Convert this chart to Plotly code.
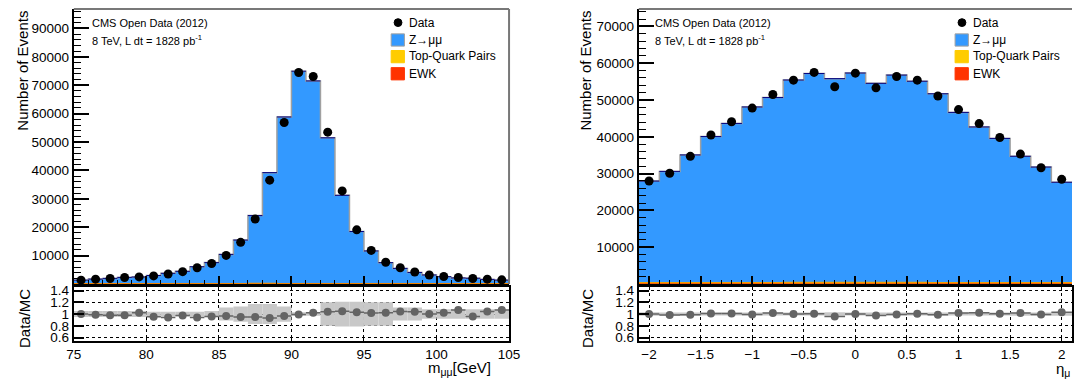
import math
import plotly.graph_objects as go

W, H = 1083, 385
FONT = "Liberation Sans, Arial, sans-serif"

# ---------------- left panel: dimuon invariant mass ----------------
mass_lo, mass_hi, mass_bw = 75.0, 105.0, 1.0
mass_data = [1380, 1720, 1960, 2300, 2530, 2870, 3560, 4370, 5750, 7250,
             10100, 14700, 22900, 36600, 56900, 74500, 73100, 53500, 32800, 19100,
             11850, 7700, 5750, 4250, 3200, 2650, 2300, 1960, 1720, 1480]
mass_z = [1320, 1680, 1935, 2290, 2415, 2940, 3710, 4410, 6030, 7485,
          10385, 15415, 24040, 39170, 58780, 74890, 71470, 51430, 31180, 18430,
          11590, 7475, 5450, 4030, 3140, 2535, 2095, 1990, 1590, 1330]
mass_top = [38, 39, 40, 41, 42, 43, 44, 44, 45, 45, 46, 46, 47, 47, 47,
            47, 47, 46, 46, 45, 45, 44, 44, 43, 42, 42, 41, 40, 40, 39]
mass_ewk = [22, 22, 22, 21, 21, 21, 20, 20, 20, 20, 19, 19, 19, 19, 18,
            18, 18, 18, 18, 18, 17, 17, 17, 17, 17, 17, 16, 16, 16, 16]
mass_unc = [0.05, 0.05, 0.05, 0.05, 0.05, 0.04, 0.04, 0.04, 0.04, 0.05,
            0.11, 0.13, 0.17, 0.17, 0.13, 0.03, 0.03, 0.20, 0.21, 0.21,
            0.20, 0.20, 0.11, 0.11, 0.08, 0.08, 0.08, 0.08, 0.08, 0.08]
mass_ticks = [75, 80, 85, 90, 95, 100, 105]
mass_yticks = [10000, 20000, 30000, 40000, 50000, 60000, 70000, 80000, 90000]

# ---------------- right panel: muon pseudorapidity ----------------
eta_lo, eta_hi, eta_bw = -2.1, 2.1, 0.2
eta_data = [28000, 30100, 34700, 40500, 44100, 47800, 51500, 55400, 57500, 53600,
            57300, 53300, 56400, 55400, 51100, 47400, 43600, 39800, 35300, 31600, 28450]
eta_z = [27700, 30320, 34780, 39760, 43320, 47790, 50340, 55100, 56860, 55475,
         57000, 54200, 56440, 54770, 51370, 46310, 42360, 39260, 34410, 31490, 27375]
eta_top = [180, 190, 200, 205, 210, 215, 215, 220, 220, 220, 220,
           220, 220, 220, 215, 215, 210, 205, 200, 190, 180]
eta_ewk = [95, 98, 100, 102, 104, 105, 106, 107, 107, 108, 108,
           108, 107, 107, 106, 105, 104, 102, 100, 98, 95]
eta_unc = [0.030, 0.028, 0.027, 0.025, 0.025, 0.025, 0.025, 0.025, 0.025, 0.030, 0.025,
           0.025, 0.025, 0.025, 0.025, 0.025, 0.025, 0.025, 0.027, 0.028, 0.030]
eta_ticks = [-2, -1.5, -1, -0.5, 0, 0.5, 1, 1.5, 2]
eta_ticktext = ["\u22122", "\u22121.5", "\u22121", "\u22120.5", "0", "0.5", "1", "1.5", "2"]
eta_yticks = [10000, 20000, 30000, 40000, 50000, 60000, 70000]

ratio_ticks = [0.6, 0.8, 1.0, 1.2, 1.4]
ratio_ticktext = ["0.6", "0.8", "1", "1.2", "1.4"]

C_Z = "#3399ff"
C_TOP = "#ffcc00"
C_EWK = "#ff3300"


def px_x(p):
    return p / W


def px_y(p):
    return 1 - p / H


def add_panel(fig, lo, bw, data, z, top, ewk, unc, xa, ya, xr, yr):
    n = len(data)
    edges = [round(lo + bw * i, 6) for i in range(n + 1)]
    centers = [round(lo + bw * (i + 0.5), 6) for i in range(n)]
    total = [z[i] + top[i] + ewk[i] for i in range(n)]
    te = [top[i] + ewk[i] for i in range(n)]

    def step(v):
        return list(v) + [v[-1]]

    fig.add_trace(go.Scatter(x=edges, y=step(total), mode="lines", line_shape="hv",
                             fill="tozeroy", fillcolor=C_Z,
                             line=dict(color="#a0a0a0", width=1.5),
                             xaxis=xa, yaxis=ya, hoverinfo="skip"))
    fig.add_trace(go.Scatter(x=edges, y=step(te), mode="lines", line_shape="hv",
                             fill="tozeroy", fillcolor=C_TOP,
                             line=dict(color="#f0a000", width=2),
                             xaxis=xa, yaxis=ya, hoverinfo="skip"))
    fig.add_trace(go.Scatter(x=edges, y=step(ewk), mode="lines", line_shape="hv",
                             fill="tozeroy", fillcolor=C_EWK,
                             line=dict(color=C_EWK, width=0.5),
                             xaxis=xa, yaxis=ya, hoverinfo="skip"))
    # dark blue tops of MC histogram
    fig.add_trace(go.Scatter(x=centers, y=total, mode="markers",
                             marker=dict(size=1, color="rgba(0,0,0,0)"),
                             error_x=dict(type="constant", value=bw / 2, color="#000080",
                                          thickness=1, width=0),
                             xaxis=xa, yaxis=ya, hoverinfo="skip"))
    # data
    fig.add_trace(go.Scatter(x=centers, y=data, mode="markers",
                             marker=dict(size=9, color="black"),
                             error_y=dict(type="data", array=[math.sqrt(d) for d in data],
                                          color="black", thickness=1, width=0),
                             xaxis=xa, yaxis=ya))
    # ratio band
    fig.add_trace(go.Bar(x=centers, y=[2 * u for u in unc], base=[1 - u for u in unc],
                         width=bw, marker=dict(color="#c8c8c8", line=dict(width=0)),
                         xaxis=xr, yaxis=yr, hoverinfo="skip"))
    ratio = [data[i] / total[i] for i in range(n)]
    rerr = [math.sqrt(data[i]) / total[i] for i in range(n)]
    fig.add_trace(go.Scatter(x=centers, y=ratio, mode="markers",
                             marker=dict(size=8, color="#646464"),
                             error_x=dict(type="constant", value=bw / 2, color="#646464",
                                          thickness=1.5, width=0),
                             error_y=dict(type="data", array=rerr, color="#646464",
                                          thickness=1, width=0),
                             xaxis=xr, yaxis=yr))


fig = go.Figure()
add_panel(fig, mass_lo, mass_bw, mass_data, mass_z, mass_top, mass_ewk, mass_unc,
          "x", "y", "x2", "y2")
add_panel(fig, eta_lo, eta_bw, eta_data, eta_z, eta_top, eta_ewk, eta_unc,
          "x3", "y3", "x4", "y4")

L_DOM = [px_x(67), px_x(510)]
R_DOM = [px_x(642), 1.0]
MAIN_DOM = [px_y(286), px_y(5)]
RATIO_DOM = [px_y(344), px_y(289)]

tickfont = dict(family=FONT, size=13.5, color="black")
rtickfont = dict(family=FONT, size=13.5, color="black")


def main_x(dom, rng, dtick, minor_dtick, anchor, tick0):
    return dict(domain=dom, range=rng, anchor=anchor, showticklabels=False,
                tickmode="linear", tick0=tick0, dtick=dtick,
                ticks="inside", ticklen=8, tickcolor="black", tickwidth=1.5,
                minor=dict(ticks="inside", ticklen=4, dtick=minor_dtick, tick0=tick0,
                           tickcolor="black", tickwidth=1),
                showline=True, linecolor="black", linewidth=2,
                showgrid=False, zeroline=False)


def main_y(rng, tickvals, anchor):
    return dict(domain=MAIN_DOM, range=rng, anchor=anchor,
                tickmode="array", tickvals=tickvals, ticktext=[str(v) for v in tickvals],
                ticks="inside", ticklen=15, tickcolor="black", tickwidth=1.5,
                minor=dict(ticks="inside", ticklen=7, tickmode="linear", tick0=0,
                           dtick=2000, tickcolor="black", tickwidth=1),
                tickfont=tickfont, showline=True, linecolor="black", linewidth=2,
                showgrid=False, zeroline=False)


def ratio_x(dom, rng, tickvals, ticktext, anchor):
    return dict(domain=dom, range=rng, anchor=anchor,
                tickmode="array", tickvals=tickvals, ticktext=ticktext,
                ticks="inside", ticklen=5, tickcolor="black", tickfont=tickfont,
                showline=True, mirror=True, linecolor="black", linewidth=2,
                showgrid=True, gridcolor="black", griddash="dot", gridwidth=1,
                zeroline=False)


def ratio_y(anchor):
    return dict(domain=RATIO_DOM, range=[0.545, 1.46], anchor=anchor,
                tickmode="array", tickvals=ratio_ticks, ticktext=ratio_ticktext,
                ticks="inside", ticklen=10, tickcolor="black", tickwidth=1.5,
                tickfont=rtickfont,
                showline=True, mirror=True, linecolor="black", linewidth=2,
                showgrid=True, gridcolor="black", griddash="dot", gridwidth=1,
                zeroline=False)


fig.update_layout(
    width=W, height=H, autosize=False,
    margin=dict(l=0, r=0, t=0, b=0, pad=0),
    paper_bgcolor="white", plot_bgcolor="white",
    showlegend=False, barmode="overlay",
    font=dict(family=FONT, color="black"),
    xaxis=main_x(L_DOM, [mass_lo, mass_hi], 5, 1, "y", 75),
    yaxis=main_y([0, 96900], mass_yticks, "x"),
    xaxis2=ratio_x(L_DOM, [mass_lo, mass_hi], mass_ticks, [str(t) for t in mass_ticks], "y2"),
    yaxis2=ratio_y("x2"),
    xaxis3=main_x(R_DOM, [eta_lo, eta_hi], 0.5, 0.1, "y3", 0),
    yaxis3=main_y([0, 74750], eta_yticks, "x3"),
    xaxis4=ratio_x(R_DOM, [eta_lo, eta_hi], eta_ticks, eta_ticktext, "y4"),
    yaxis4=ratio_y("x4"),
)

shapes = []
# gray top/right frame of main pads
for xa, ya, right in (("x", "y", True), ("x3", "y3", False)):
    shapes.append(dict(type="line", xref=xa + " domain", yref=ya + " domain",
                       x0=0, x1=1, y0=1, y1=1, line=dict(color="#787878", width=2)))
    if right:
        shapes.append(dict(type="line", xref=xa + " domain", yref=ya + " domain",
                           x0=1, x1=1, y0=0, y1=1, line=dict(color="#787878", width=2)))

annotations = []
lab_font = dict(family=FONT, size=11, color="black")
legend_items = [("Data", None), ("Z\u2192\u03bc\u03bc", C_Z),
                ("Top-Quark Pairs", C_TOP), ("EWK", C_EWK)]
leg_rows = [19, 36.5, 53.5, 71]
for x_text, x_leg in ((83, 390), (657, 964)):
    annotations.append(dict(text="CMS Open Data (2012)", x=px_x(x_text), y=px_y(19.5),
                            xref="paper", yref="paper", xanchor="left", yanchor="middle",
                            showarrow=False, font=lab_font))
    annotations.append(dict(text="8 TeV, L dt = 1828 pb<sup>-1</sup>", x=px_x(x_text),
                            y=px_y(37), xref="paper", yref="paper", xanchor="left",
                            yanchor="middle", showarrow=False, font=lab_font))
    for (label, col), row in zip(legend_items, leg_rows):
        if col is None:
            shapes.append(dict(type="circle", xref="paper", yref="paper",
                               x0=px_x(x_leg + 3), x1=px_x(x_leg + 11),
                               y0=px_y(row + 4), y1=px_y(row - 4),
                               fillcolor="black", line=dict(color="black", width=1)))
        else:
            shapes.append(dict(type="rect", xref="paper", yref="paper",
                               x0=px_x(x_leg), x1=px_x(x_leg + 13.5),
                               y0=px_y(row + 6.5), y1=px_y(row - 6),
                               fillcolor=col,
                               line=dict(color="#a0a0a0" if col == C_Z else col, width=1)))
        annotations.append(dict(text=label, x=px_x(x_leg + 16), y=px_y(row),
                                xref="paper", yref="paper", xanchor="left",
                                yanchor="middle", showarrow=False,
                                font=dict(family=FONT, size=12, color="black")))

title_font = dict(family=FONT, size=15, color="black")
for x_t in (15, 588):
    annotations.append(dict(text="Number of Events", textangle=-90, x=px_x(x_t), y=px_y(5),
                            xref="paper", yref="paper", xanchor="center", yanchor="top",
                            showarrow=False, font=title_font))
    annotations.append(dict(text="Data/MC", textangle=-90, x=px_x(x_t + 2), y=px_y(321),
                            xref="paper", yref="paper", xanchor="center", yanchor="middle",
                            showarrow=False, font=title_font))
annotations.append(dict(text="m<sub>\u03bc\u03bc</sub>[GeV]", x=px_x(494), y=px_y(372),
                        xref="paper", yref="paper", xanchor="right", yanchor="middle",
                        showarrow=False, font=title_font))
annotations.append(dict(text="\u03b7<sub>\u03bc</sub>", x=px_x(1065), y=px_y(373),
                        xref="paper", yref="paper", xanchor="left", yanchor="middle",
                        showarrow=False, font=title_font))

fig.update_layout(shapes=shapes, annotations=annotations)
fig.write_html("out.html")
